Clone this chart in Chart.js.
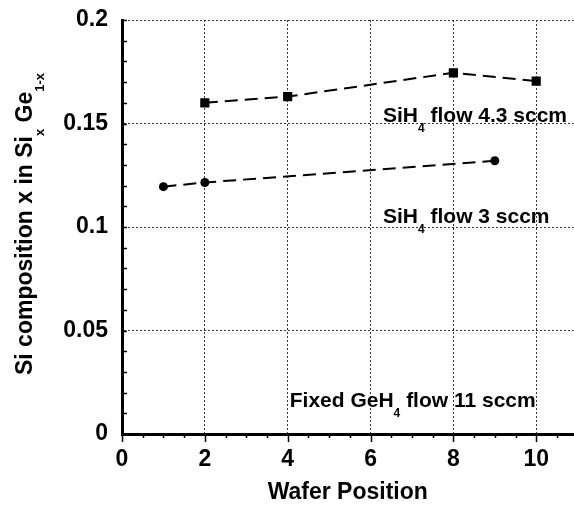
<!DOCTYPE html>
<html>
<head>
<meta charset="utf-8">
<script src="https://cdn.jsdelivr.net/npm/chart.js@4"></script>
<style>
  body { margin: 0; background: #fff; overflow: hidden; }
  #wrap { width: 580px; height: 510px; }
</style>
</head>
<body>
<div id="wrap"><canvas id="siGeChart"></canvas></div>
<script>
// Data
const flow43X = [2, 4, 8, 10];
const flow43Y = [0.160, 0.163, 0.1745, 0.1705];
const flow3X = [1, 2, 9];
const flow3Y = [0.1195, 0.1215, 0.132];
const xTickValues = [0, 2, 4, 6, 8, 10];
const yTickValues = [0, 0.05, 0.1, 0.15, 0.2];

const FONT = '"Liberation Sans", Arial, sans-serif';

// draw text with subscript parts, left aligned on baseline
function drawRich(ctx, parts, x, y, size) {
  let cx = x;
  parts.forEach(p => {
    ctx.font = 'bold ' + (p.sub ? Math.round(size * 0.58) : size) + 'px ' + FONT;
    ctx.fillText(p.t, cx, p.sub ? y + size * 0.5 : y);
    cx += ctx.measureText(p.t).width;
  });
  return cx - x;
}
function richWidth(ctx, parts, size) {
  let w = 0;
  parts.forEach(p => {
    ctx.font = 'bold ' + (p.sub ? Math.round(size * 0.58) : size) + 'px ' + FONT;
    w += ctx.measureText(p.t).width;
  });
  return w;
}

const annotations = [
  { x: 6.3, y: 0.1509, parts: [{t: 'SiH'}, {t: '4', sub: true}, {t: ' flow 4.3 sccm'}] },
  { x: 6.3, y: 0.1021, parts: [{t: 'SiH'}, {t: '4', sub: true}, {t: ' flow 3 sccm'}] },
  { x: 4.05, y: 0.0132, parts: [{t: 'Fixed GeH'}, {t: '4', sub: true}, {t: ' flow 11 sccm'}] }
];

const extrasPlugin = {
  id: 'extras',
  afterDraw(chart) {
    const ctx = chart.ctx;
    const xs = chart.scales.x, ys = chart.scales.y;
    const area = chart.chartArea;
    ctx.save();
    ctx.strokeStyle = '#000';
    ctx.lineWidth = 1.5;
    // x ticks, pointing down
    for (let v = 0; v <= 10.5; v += 0.5) {
      const px = Math.round(xs.getPixelForValue(v)) + 0.5;
      const len = (v % 2 === 0) ? 8 : 4;
      ctx.beginPath();
      ctx.moveTo(px, area.bottom);
      ctx.lineTo(px, area.bottom + len);
      ctx.stroke();
    }
    // y ticks, pointing inward
    for (let i = 0; i <= 20; i++) {
      const py = Math.round(ys.getPixelForValue(i * 0.01)) + 0.5;
      ctx.beginPath();
      ctx.moveTo(area.left, py);
      ctx.lineTo(area.left + 5, py);
      ctx.stroke();
    }
    ctx.fillStyle = '#000';
    ctx.textBaseline = 'alphabetic';
    ctx.textAlign = 'left';
    annotations.forEach(a => {
      drawRich(ctx, a.parts, xs.getPixelForValue(a.x), ys.getPixelForValue(a.y), 21);
    });
    // y axis title with subscripts
    const yTitle = [{t: 'Si composition x in Si'}, {t: 'x', sub: true}, {t: ' Ge'}, {t: '1-x', sub: true}];
    const w = richWidth(ctx, yTitle, 23);
    ctx.translate(32, (area.top + area.bottom) / 2 - 3);
    ctx.rotate(-Math.PI / 2);
    drawRich(ctx, yTitle, -w / 2, 0, 23);
    ctx.restore();
  }
};

new Chart(document.getElementById('siGeChart').getContext('2d'), {
  type: 'line',
  data: {
    datasets: [
      {
        label: 'SiH4 flow 4.3 sccm',
        data: flow43X.map((x, i) => ({x, y: flow43Y[i]})),
        borderColor: '#000',
        backgroundColor: '#000',
        borderWidth: 2,
        borderDash: [13, 7],
        pointStyle: 'rect',
        pointRadius: 6.5,
        pointBorderWidth: 0
      },
      {
        label: 'SiH4 flow 3 sccm',
        data: flow3X.map((x, i) => ({x, y: flow3Y[i]})),
        borderColor: '#000',
        backgroundColor: '#000',
        borderWidth: 2,
        borderDash: [13, 7],
        pointStyle: 'circle',
        pointRadius: 4.5,
        pointBorderWidth: 0
      }
    ]
  },
  options: {
    responsive: true,
    maintainAspectRatio: false,
    animation: false,
    layout: { padding: { top: 20, right: 0, left: 0, bottom: 2 } },
    plugins: { legend: { display: false }, tooltip: { enabled: false } },
    scales: {
      x: {
        type: 'linear',
        min: 0,
        max: 10.9,
        afterBuildTicks: s => { s.ticks = xTickValues.map(v => ({value: v})); },
        afterFit: s => { s.height = 74; },
        ticks: {
          color: '#000',
          padding: 12,
          maxRotation: 0,
          font: { family: FONT, size: 23, weight: 'bold' }
        },
        grid: { color: '#333', lineWidth: 1, drawTicks: false },
        border: { display: true, color: '#000', width: 3, dash: [2, 2] },
        title: {
          display: true,
          text: 'Wafer Position',
          color: '#000',
          padding: { top: 0, bottom: 2 },
          font: { family: FONT, size: 23, weight: 'bold' }
        }
      },
      y: {
        min: 0,
        max: 0.2,
        afterBuildTicks: s => { s.ticks = yTickValues.map(v => ({value: v})); },
        afterFit: s => { s.width = 122; },
        ticks: {
          color: '#000',
          padding: 14,
          callback: v => String(+v.toFixed(2)),
          font: { family: FONT, size: 23, weight: 'bold', lineHeight: 0.4 }
        },
        grid: { color: '#333', lineWidth: 1, drawTicks: false },
        border: { display: true, color: '#000', width: 3, dash: [2, 2] }
      }
    }
  },
  plugins: [extrasPlugin]
});
</script>
</body>
</html>
